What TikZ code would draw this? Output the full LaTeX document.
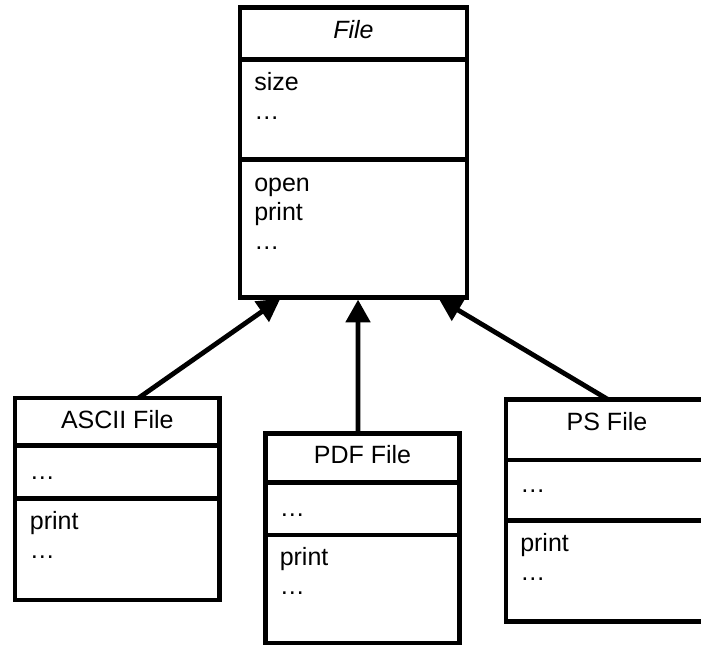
\documentclass[tikz,border=0pt]{standalone}
\usepackage{fontspec}
\setmainfont{Liberation Sans}
\usetikzlibrary{positioning,arrows.meta}

\begin{document}
\begin{tikzpicture}[x=0.75pt,y=-0.75pt]
  \tikzset{every node/.style={font=\fontsize{18.75pt}{21.75pt}\selectfont}}
  \tikzset{ClassBox/.style={draw, line width=3.3pt, inner sep=0pt, outer sep=0pt, anchor=north west}}
  \tikzset{PartBox/.style={draw, line width=3.3pt, inner sep=0pt, outer sep=0pt, below=0pt of #1}}
  \tikzset{Title/.style={anchor=base, inner sep=0pt}}
  \tikzset{Member/.style={anchor=base west, inner sep=0pt}}
  \tikzset{Inherit/.style={line width=3.6pt, -{Triangle[length=17pt,width=18pt]}, shorten >=1.6pt}}

  \useasboundingbox (0,0) rectangle (701,645);
  \clip (0,0) rectangle (701,645);

% superclass
  \node[ClassBox, minimum width=170.25pt, minimum height=39pt] (fileName) at (240,7.5) {};
  \node[PartBox=fileName, minimum width=170.25pt, minimum height=75pt] (fileAttr) {};
  \node[PartBox=fileAttr, minimum width=170.25pt, minimum height=103.5pt] (fileOps) {};
  \node[Title] (fileTitle) at ([yshift=-23.1pt]fileName.north) {\itshape File};
  \foreach \m [count=\i from 0] in {size,…}
    \node[Member] (fileA\i) at ([xshift=10.5pt,yshift=-22.9pt-\i*21.75pt]fileAttr.north west) {\m};
  \foreach \m [count=\i from 0] in {open,print,…}
    \node[Member] (fileO\i) at ([xshift=10.5pt,yshift=-24.3pt-\i*21.75pt]fileOps.north west) {\m};

% subclasses
  \node[ClassBox, minimum width=153.4pt, minimum height=35.5pt] (asciiName) at (15,398) {};
  \node[PartBox=asciiName, minimum width=153.4pt, minimum height=40pt] (asciiAttr) {};
  \node[PartBox=asciiAttr, minimum width=153.4pt, minimum height=76.2pt] (asciiOps) {};
  \node[Title] (asciiTitle) at ([yshift=-22.7pt]asciiName.north) {ASCII File};
  \node[Member] (asciiA0) at ([xshift=11pt,yshift=-25.5pt]asciiAttr.north west) {…};
  \foreach \m [count=\i from 0] in {print,…}
    \node[Member] (asciiO\i) at ([xshift=11pt,yshift=-23pt-\i*21.75pt]asciiOps.north west) {\m};

  \node[ClassBox, minimum width=145.5pt, minimum height=36.6pt] (pdfName) at (265.5,433.7) {};
  \node[PartBox=pdfName, minimum width=145.5pt, minimum height=39.6pt] (pdfAttr) {};
  \node[PartBox=pdfAttr, minimum width=145.5pt, minimum height=81pt] (pdfOps) {};
  \node[Title] (pdfTitle) at ([yshift=-22.7pt]pdfName.north) {PDF File};
  \node[Member] (pdfA0) at ([xshift=10.5pt,yshift=-25.6pt]pdfAttr.north west) {…};
  \foreach \m [count=\i from 0] in {print,…}
    \node[Member] (pdfO\i) at ([xshift=10.5pt,yshift=-22.3pt-\i*21.75pt]pdfOps.north west) {\m};

  \node[ClassBox, minimum width=151.5pt, minimum height=45.4pt] (psName) at (506,399.5) {};
  \node[PartBox=psName, minimum width=151.5pt, minimum height=45.4pt] (psAttr) {};
  \node[PartBox=psAttr, minimum width=151.5pt, minimum height=75.6pt] (psOps) {};
  \node[Title] (psTitle) at ([yshift=-22.9pt]psName.north) {PS File};
  \node[Member] (psA0) at ([xshift=10.5pt,yshift=-24pt]psAttr.north west) {…};
  \foreach \m [count=\i from 0] in {print,…}
    \node[Member] (psO\i) at ([xshift=10.5pt,yshift=-23.4pt-\i*21.75pt]psOps.north west) {\m};

% generalisation arrows
  \draw[Inherit] ([xshift=16pt]asciiName.north) -- ([xshift=-53.6pt]fileOps.south);
  \draw[Inherit] ([xshift=-3.4pt]pdfName.north) -- ([xshift=3.4pt]fileOps.south);
  \draw[Inherit] ([xshift=0.75pt]psName.north) -- ([xshift=62.6pt]fileOps.south);
\end{tikzpicture}
\end{document}
